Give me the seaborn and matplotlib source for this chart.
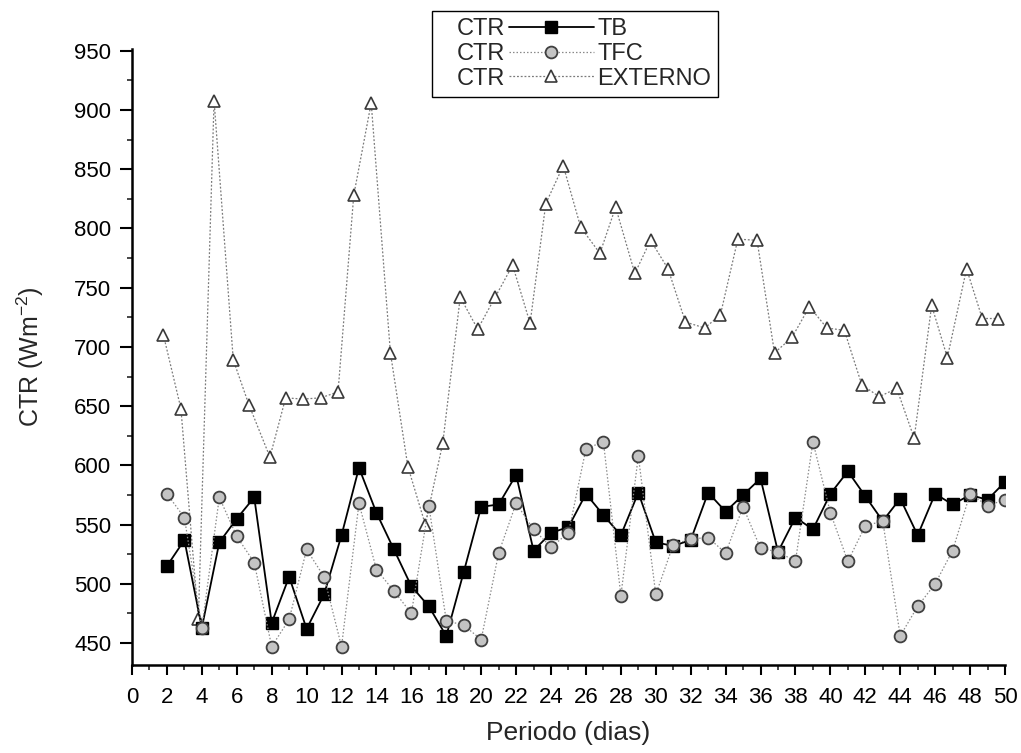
import matplotlib
matplotlib.use("Agg")
import matplotlib.pyplot as plt
from matplotlib.ticker import MultipleLocator
from matplotlib.legend_handler import HandlerBase
from matplotlib.lines import Line2D
import seaborn as sns

# ---------------- data ----------------
days = list(range(2, 51))

tb = [515, 537, 463, 535, 555, 573, 467, 506, 462, 491, 541, 598, 560, 529,
      498, 481, 456, 510, 565, 567, 592, 528, 543, 548, 576, 558, 541, 577,
      535, 532, 537, 577, 561, 575, 589, 527, 556, 546, 576, 595, 574, 553,
      572, 541, 576, 567, 575, 571, 586]

tfc = [576, 556, 463, 573, 540, 518, 447, 470, 529, 506, 447, 568, 512, 494,
       475, 566, 469, 465, 453, 526, 568, 546, 531, 543, 614, 620, 490, 608,
       491, 533, 538, 539, 526, 565, 530, 527, 519, 620, 560, 519, 549, 553,
       456, 481, 500, 528, 576, 566, 571]

ext_days = [1.8, 2.8, 3.8, 4.7, 5.8, 6.7, 7.9, 8.8, 9.8, 10.8, 11.8, 12.7,
            13.7, 14.8, 15.8, 16.8, 17.8, 18.8, 19.8, 20.8, 21.8, 22.8, 23.7,
            24.7, 25.7, 26.8, 27.7, 28.8, 29.7, 30.7, 31.7, 32.8, 33.7, 34.7,
            35.8, 36.8, 37.8, 38.8, 39.8, 40.8, 41.8, 42.8, 43.8, 44.8, 45.8,
            46.7, 47.8, 48.7, 49.6]
externo = [710, 648, 470, 908, 689, 651, 607, 657, 656, 657, 662, 828, 906,
           695, 599, 550, 619, 742, 715, 742, 769, 720, 821, 853, 801, 779,
           818, 762, 790, 766, 721, 716, 727, 791, 790, 695, 708, 734, 716,
           714, 668, 658, 665, 623, 735, 691, 766, 724, 724]

series_names = ["TB", "TFC", "EXTERNO"]
legend_prefix = "CTR"
x_label = "Periodo (dias)"
y_label = r"CTR (Wm$^{\mathregular{-2}}$)"

# ---------------- style ----------------
sns.set_style("ticks")
plt.rcParams["font.family"] = ["Liberation Sans", "DejaVu Sans"]
plt.rcParams["mathtext.fontset"] = "custom"
plt.rcParams["mathtext.rm"] = "Liberation Sans"

fig = plt.figure(figsize=(10.21, 7.53), dpi=100)
ax = fig.add_axes([0.1293, 0.1169, 0.855, 0.818])

sns.lineplot(x=days, y=tb, ax=ax, estimator=None, sort=False,
             color="black", linewidth=1.3, linestyle="-",
             marker="s", markersize=9, markerfacecolor="black",
             markeredgecolor="black", markeredgewidth=1.0,
             label=series_names[0], zorder=3)
sns.lineplot(x=days, y=tfc, ax=ax, estimator=None, sort=False,
             color="#8a8a8a", linewidth=0.9, linestyle=(0, (1.2, 1.6)),
             marker="o", markersize=8.5, markerfacecolor="#c4c4c4",
             markeredgecolor="#404040", markeredgewidth=1.3,
             label=series_names[1], zorder=4)
sns.lineplot(x=ext_days, y=externo, ax=ax, estimator=None, sort=False,
             color="#7a7a7a", linewidth=0.9, linestyle=(0, (1.5, 1.5)),
             marker="^", markersize=9, markerfacecolor="white",
             markeredgecolor="#3a3a3a", markeredgewidth=1.2,
             label=series_names[2], zorder=2)

ax.set_xlim(0, 50)
ax.set_ylim(431.5, 951.5)
ax.xaxis.set_major_locator(MultipleLocator(2))
ax.xaxis.set_minor_locator(MultipleLocator(1))
ax.yaxis.set_major_locator(MultipleLocator(50))
ax.yaxis.set_minor_locator(MultipleLocator(25))

sns.despine(ax=ax)
for s in ("left", "bottom"):
    ax.spines[s].set_linewidth(1.8)
    ax.spines[s].set_color("black")

ax.tick_params(axis="x", which="major", direction="out", length=7, width=1.5,
               pad=9, labelsize=16, colors="black")
ax.tick_params(axis="x", which="minor", direction="out", length=3.5, width=1.2)
ax.tick_params(axis="y", which="major", direction="out", length=9, width=1.5,
               pad=6, labelsize=16, colors="black")
ax.tick_params(axis="y", which="minor", direction="out", length=3.5, width=1.2)

ax.set_xlabel(x_label, fontsize=19, labelpad=9)
ax.set_ylabel(y_label, fontsize=18, labelpad=20)


# ---------------- legend: "CTR —marker— NAME" ----------------
class BlankHandler(HandlerBase):
    def legend_artist(self, legend, orig_handle, fontsize, handlebox):
        handlebox.width = 0.6 * fontsize
        a = Line2D([], [])
        a.set_visible(False)
        handlebox.add_artist(a)
        return a


line_handles, _ = ax.get_legend_handles_labels()
blanks = [Line2D([], []) for _ in series_names]
hmap = {b: BlankHandler() for b in blanks}
leg = ax.legend(blanks + line_handles,
                [legend_prefix] * len(series_names) + series_names,
                handler_map=hmap, ncol=2, loc="upper left",
                bbox_to_anchor=(432 / 1021, 1 - 11 / 753),
                bbox_transform=fig.transFigure, borderaxespad=0,
                fontsize=17, handlelength=3.6, handletextpad=0.15,
                columnspacing=0.15, labelspacing=0.12, borderpad=0.3,
                frameon=True, fancybox=False, framealpha=1,
                edgecolor="black")
leg.get_frame().set_linewidth(1.0)

fig.savefig("out.png", dpi=100)
